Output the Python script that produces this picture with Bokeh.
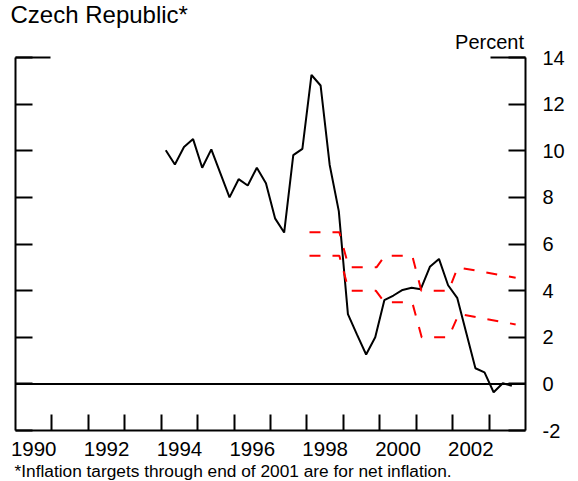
from bokeh.plotting import figure
from bokeh.models import (Range1d, LinearAxis, FixedTicker, CustomJSTickFormatter,
                          Span, Title)
from bokeh.embed import file_html
from bokeh.resources import INLINE

# ---- data ----
title_text = "Czech Republic*"
unit_text = "Percent"
note_text = "*Inflation targets through end of 2001 are for net inflation."

year_labels = [1990, 1992, 1994, 1996, 1998, 2000, 2002]
year_ticks = list(range(1991, 2004))
y_ticks = [-2, 0, 2, 4, 6, 8, 10, 12, 14]

# quarterly inflation, 1994 Q1 .. 2003 Q3
cpi_start = 1994.125
cpi = [10.02, 9.41, 10.16, 10.50, 9.27, 10.06, 9.03, 8.00, 8.78, 8.51,
       9.27, 8.61, 7.10, 6.49, 9.81, 10.08, 13.25, 12.80, 9.39, 7.41,
       2.99, 2.11, 1.26, 2.00, 3.59, 3.79, 4.03, 4.12, 4.06, 5.02,
       5.36, 4.23, 3.69, 2.18, 0.67, 0.49, -0.36, 0.03, -0.08]
cpi_x = [cpi_start + 0.25 * i for i in range(len(cpi))]

# inflation target band
upper_x = [1998.07, 1998.89, 1999.15, 1999.91, 2000.14, 2000.89, 2001.14, 2001.89, 2002.14, 2003.73]
upper_y = [6.5, 6.5, 5.0, 5.0, 5.5, 5.5, 4.0, 4.0, 5.0, 4.55]
lower_x = [1998.07, 1998.89, 1999.15, 1999.89, 2000.13, 2000.89, 2001.15, 2001.89, 2002.17, 2003.73]
lower_y = [5.5, 5.5, 4.0, 4.0, 3.5, 3.5, 2.0, 2.0, 3.0, 2.55]

FONT = "Liberation Sans"

p = figure(width=570, height=480, output_backend="svg", toolbar_location=None,
           x_range=Range1d(1990, 2004), y_range=Range1d(-2, 14),
           x_axis_location=None, y_axis_location=None,
           min_border_left=15, min_border_right=45, min_border_top=57,
           min_border_bottom=47)
p.title.visible = False
p.outline_line_color = None
p.xgrid.visible = False
p.ygrid.visible = False
p.background_fill_color = "white"
p.border_fill_color = "white"

def style_axis(ax):
    ax.axis_line_width = 2
    ax.axis_line_color = "black"
    ax.major_tick_line_width = 2
    ax.minor_tick_line_width = 2
    ax.major_tick_line_color = "black"
    ax.minor_tick_line_color = "black"
    ax.major_label_text_font = FONT
    ax.major_label_text_color = "black"

empty_fmt = CustomJSTickFormatter(code="return ''")

# left axis (ticks only)
left = LinearAxis(ticker=FixedTicker(ticks=y_ticks), formatter=empty_fmt)
style_axis(left)
left.major_tick_in = 17
left.major_tick_out = 0
left.minor_tick_in = 0
left.minor_tick_out = 0
left.major_label_standoff = 0
left.major_label_text_font_size = "0px"
p.add_layout(left, "left")

# right axis with labels (ASCII hyphen for negatives)
right = LinearAxis(ticker=FixedTicker(ticks=y_ticks),
                   formatter=CustomJSTickFormatter(code="return String(tick)"))
style_axis(right)
right.major_tick_in = 17
right.major_tick_out = 0
right.minor_tick_in = 0
right.minor_tick_out = 0
right.major_label_standoff = 17
right.major_label_text_font_size = "20px"
p.add_layout(right, "right")

# bottom axis: tick marks at year boundaries, labels at mid-year
label_pos = [y + 0.5 for y in year_labels]
bottom = LinearAxis(ticker=FixedTicker(ticks=label_pos, minor_ticks=year_ticks),
                    formatter=CustomJSTickFormatter(code="return String(Math.floor(tick))"))
style_axis(bottom)
bottom.major_tick_in = 0
bottom.major_tick_out = 0
bottom.minor_tick_in = 16
bottom.minor_tick_out = 0
bottom.major_label_standoff = 11
bottom.major_label_text_font_size = "20.5px"
p.add_layout(bottom, "below")

# footnote
p.add_layout(Title(text=note_text, align="left", offset=-1, standoff=0,
                   text_font=FONT, text_font_size="17.3px", text_font_style="normal",
                   text_color="black"), "below")

# top: only corner stubs
top = LinearAxis(ticker=FixedTicker(ticks=[]), formatter=empty_fmt)
style_axis(top)
top.axis_line_dash = "35 440"
top.axis_line_cap = "butt"
top.major_tick_in = 0
top.major_tick_out = 0
top.major_label_text_font_size = "0px"
top.major_label_standoff = 0
p.add_layout(top, "above")

# unit and title
p.add_layout(Title(text=unit_text, align="right", offset=1.5, standoff=9,
                   text_font=FONT, text_font_size="20px", text_font_style="normal",
                   text_color="black"), "above")
p.add_layout(Title(text=title_text, align="left", offset=-5, standoff=-7.5,
                   text_font=FONT, text_font_size="24px", text_font_style="normal",
                   text_color="black"), "above")

# zero line
p.add_layout(Span(location=0, dimension="width", line_color="black", line_width=2))

# series
p.line(cpi_x, cpi, line_color="black", line_width=2)
p.line(upper_x, upper_y, line_color="#ff0000", line_width=2, line_dash="11 12")
p.line(lower_x, lower_y, line_color="#ff0000", line_width=2, line_dash="11 12")

open("out.html", "w").write(file_html(p, INLINE))
